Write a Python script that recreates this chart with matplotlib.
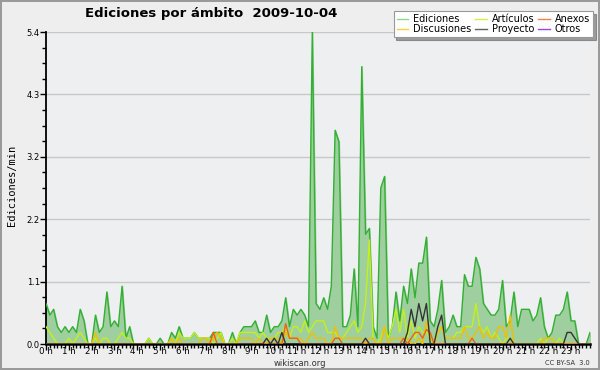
import matplotlib
matplotlib.use("Agg")
import matplotlib.pyplot as plt
from matplotlib.lines import Line2D
import numpy as np

# valores cada 10 minutos (6 por hora), ediciones/min
ediciones = [
    0.7, 0.5, 0.6, 0.3, 0.2, 0.3,   # 0h
    0.2, 0.3, 0.2, 0.6, 0.4, 0.0,   # 1h
    0.0, 0.5, 0.2, 0.3, 0.9, 0.3,   # 2h
    0.4, 0.3, 1.0, 0.1, 0.3, 0.0,   # 3h
    0.0, 0.0, 0.0, 0.1, 0.0, 0.0,   # 4h
    0.1, 0.0, 0.0, 0.2, 0.1, 0.3,   # 5h
    0.1, 0.1, 0.1, 0.2, 0.1, 0.1,   # 6h
    0.1, 0.1, 0.2, 0.2, 0.2, 0.0,   # 7h
    0.0, 0.2, 0.0, 0.2, 0.3, 0.3,   # 8h
    0.3, 0.4, 0.2, 0.2, 0.5, 0.2,   # 9h
    0.3, 0.3, 0.4, 0.8, 0.3, 0.6,   # 10h
    0.5, 0.6, 0.5, 0.3, 5.4, 0.7,   # 11h
    0.6, 0.8, 0.6, 1.0, 3.7, 3.5,   # 12h
    0.3, 0.3, 0.5, 1.3, 0.3, 4.8,   # 13h
    1.9, 2.0, 0.3, 0.1, 2.7, 2.9,   # 14h
    0.1, 0.3, 0.9, 0.4, 1.0, 0.7,   # 15h
    1.3, 0.8, 1.4, 1.4, 1.85, 0.4,  # 16h
    0.3, 0.6, 1.1, 0.2, 0.3, 0.5,   # 17h
    0.3, 0.3, 1.2, 1.0, 1.0, 1.5,   # 18h
    1.3, 0.7, 0.6, 0.5, 0.5, 0.6,   # 19h
    1.1, 0.3, 0.4, 0.9, 0.3, 0.6,   # 20h
    0.6, 0.6, 0.4, 0.5, 0.8, 0.3,   # 21h
    0.1, 0.2, 0.5, 0.5, 0.6, 0.9,   # 22h
    0.4, 0.4, 0.0, 0.0, 0.0, 0.2,   # 23h
]

articulos = [
    0.3, 0.2, 0.1, 0.0, 0.0, 0.0,
    0.1, 0.0, 0.1, 0.2, 0.1, 0.0,
    0.0, 0.1, 0.0, 0.1, 0.1, 0.0,
    0.0, 0.1, 0.2, 0.1, 0.1, 0.0,
    0.0, 0.0, 0.0, 0.1, 0.0, 0.0,
    0.0, 0.0, 0.0, 0.1, 0.0, 0.2,
    0.1, 0.1, 0.1, 0.2, 0.1, 0.1,
    0.1, 0.1, 0.0, 0.1, 0.2, 0.0,
    0.0, 0.1, 0.0, 0.2, 0.2, 0.2,
    0.2, 0.2, 0.1, 0.2, 0.1, 0.1,
    0.1, 0.2, 0.2, 0.3, 0.1, 0.3,
    0.3, 0.2, 0.4, 0.2, 0.3, 0.4,
    0.4, 0.4, 0.2, 0.2, 0.2, 0.1,
    0.1, 0.2, 0.3, 0.4, 0.2, 0.3,
    0.7, 1.8, 0.1, 0.0, 0.1, 0.3,
    0.1, 0.3, 0.6, 0.2, 0.6, 0.1,
    0.4, 0.1, 0.3, 0.2, 0.2, 0.1,
    0.0, 0.2, 0.3, 0.1, 0.1, 0.1,
    0.2, 0.2, 0.3, 0.3, 0.3, 0.7,
    0.3, 0.2, 0.3, 0.1, 0.2, 0.1,
    0.0, 0.1, 0.1, 0.0, 0.0, 0.0,
    0.0, 0.0, 0.0, 0.0, 0.1, 0.0,
    0.1, 0.1, 0.0, 0.1, 0.0, 0.0,
    0.0, 0.0, 0.0, 0.0, 0.0, 0.0,
]

discusiones = [
    0.0, 0.0, 0.0, 0.0, 0.0, 0.0,
    0.0, 0.0, 0.0, 0.0, 0.0, 0.0,
    0.0, 0.2, 0.0, 0.0, 0.0, 0.0,
    0.0, 0.0, 0.0, 0.0, 0.0, 0.0,
    0.0, 0.0, 0.0, 0.0, 0.0, 0.0,
    0.0, 0.0, 0.0, 0.1, 0.0, 0.1,
    0.0, 0.0, 0.0, 0.0, 0.0, 0.1,
    0.1, 0.0, 0.1, 0.2, 0.1, 0.0,
    0.0, 0.0, 0.0, 0.1, 0.1, 0.1,
    0.1, 0.0, 0.1, 0.0, 0.0, 0.1,
    0.1, 0.1, 0.0, 0.2, 0.1, 0.1,
    0.1, 0.1, 0.0, 0.1, 0.2, 0.1,
    0.1, 0.1, 0.0, 0.0, 0.3, 0.1,
    0.1, 0.1, 0.1, 0.1, 0.1, 0.1,
    0.0, 0.1, 0.1, 0.0, 0.0, 0.3,
    0.0, 0.1, 0.1, 0.1, 0.1, 0.1,
    0.0, 0.0, 0.1, 0.0, 0.4, 0.1,
    0.0, 0.2, 0.3, 0.1, 0.1, 0.1,
    0.1, 0.1, 0.3, 0.1, 0.1, 0.2,
    0.3, 0.1, 0.2, 0.1, 0.1, 0.3,
    0.3, 0.1, 0.5, 0.0, 0.0, 0.0,
    0.0, 0.0, 0.0, 0.0, 0.0, 0.1,
    0.1, 0.1, 0.0, 0.0, 0.0, 0.0,
    0.0, 0.0, 0.0, 0.0, 0.0, 0.0,
]

anexos = [0.0] * 144
for i, v in {44: 0.2, 63: 0.35, 64: 0.1, 65: 0.1, 66: 0.1, 76: 0.1, 77: 0.1,
             94: 0.1, 96: 0.1, 97: 0.2, 98: 0.2, 99: 0.1, 100: 0.25, 101: 0.2,
             112: 0.1}.items():
    anexos[i] = v

proyecto = [0.0] * 144
for i, v in {58: 0.1, 60: 0.1, 62: 0.2, 84: 0.1, 95: 0.2, 96: 0.6, 97: 0.3,
             98: 0.7, 99: 0.4, 100: 0.7, 103: 0.3, 104: 0.5, 122: 0.1,
             137: 0.2, 138: 0.2, 139: 0.1}.items():
    proyecto[i] = v

otros = [0.0] * 144

x = np.arange(144)
horas = [f"{h} h" for h in range(24)]

fig = plt.figure(figsize=(6, 3.7), dpi=100, facecolor="#eeeeee",
                 edgecolor="#9a9a9a", linewidth=1.5)
ax = fig.add_axes([46 / 600, 26 / 370, 544 / 600, 312 / 370])
ax.set_facecolor("#eeeff1")

ax.fill_between(x, ediciones, color="#9fcf9f", zorder=2)
ax.plot(x, ediciones, color="#33b033", lw=1.0, zorder=3)
ax.plot(x, articulos, color="#c4f01c", lw=1.0, zorder=4)
ax.plot(x, discusiones, color="#f0c000", lw=1.0, zorder=4)
ax.plot(x, anexos, color="#f06010", lw=1.0, zorder=5)
ax.plot(x, proyecto, color="#333333", lw=1.0, zorder=6)
ax.plot(x, otros, color="#8a3ae0", lw=1.0, zorder=1)

ax.set_xlim(0, 143)
ax.set_ylim(0, 5.4)

yt = [0, 1.08, 2.16, 3.24, 4.32, 5.4]
ax.set_yticks(yt)
ax.set_yticklabels(["0.0", "1.1", "2.2", "3.2", "4.3", "5.4"], fontsize=6)
ax.set_yticks(np.arange(0, 5.41, 0.27), minor=True)
ax.set_xticks(np.arange(0, 144, 6))
ax.set_xticklabels(horas, fontsize=6.3)
ax.set_xticks(np.arange(0, 144, 1), minor=True)
ax.tick_params(axis="both", which="major", length=4, width=1, pad=0.5)
ax.tick_params(axis="x", which="major", pad=-2)
ax.tick_params(axis="both", which="minor", length=3, width=1)

for v in yt[1:]:
    ax.axhline(v, color="#c8c8c8", lw=1, zorder=0)

ax.spines[["top", "right"]].set_visible(False)
ax.spines["left"].set_linewidth(1.3)
ax.spines["bottom"].set_linewidth(1.8)

fig.text(12 / 600, 0.5, "Ediciones/min", rotation=90, fontsize=7.5,
         va="center", ha="center", family="DejaVu Sans Mono")
fig.text(85 / 600, 1 - 14 / 370, "Ediciones por ámbito  2009-10-04",
         fontsize=9.5, fontweight="bold", va="center", ha="left")
fig.text(0.5, 1 - 363 / 370, "wikiscan.org", fontsize=6, ha="center",
         va="center", color="#333333")
fig.text(590 / 600, 1 - 363 / 370, "CC BY-SA  3.0", fontsize=4.8,
         ha="right", va="center", color="#333333")

handles = [
    Line2D([], [], color="#8fd68f", lw=1),
    Line2D([], [], color="#f8d040", lw=1),
    Line2D([], [], color="#d2f048", lw=1),
    Line2D([], [], color="#606060", lw=1),
    Line2D([], [], color="#f08050", lw=1),
    Line2D([], [], color="#9448e8", lw=1),
]
labels = ["Ediciones", "Discusiones", "Artículos", "Proyecto", "Anexos", "Otros"]
leg = fig.legend(handles, labels, ncol=3, loc="upper right",
                 bbox_to_anchor=(593 / 600, 1 - 11 / 370), fontsize=7,
                 frameon=True, fancybox=False, shadow=True,
                 handlelength=1.2, handletextpad=0.5, columnspacing=0.4,
                 labelspacing=0.05, borderpad=0.3, borderaxespad=0)
leg.get_frame().set_edgecolor("#999999")
leg.get_frame().set_linewidth(0.8)

fig.savefig("out.png", dpi=100, facecolor=fig.get_facecolor(),
            edgecolor=fig.get_edgecolor())
